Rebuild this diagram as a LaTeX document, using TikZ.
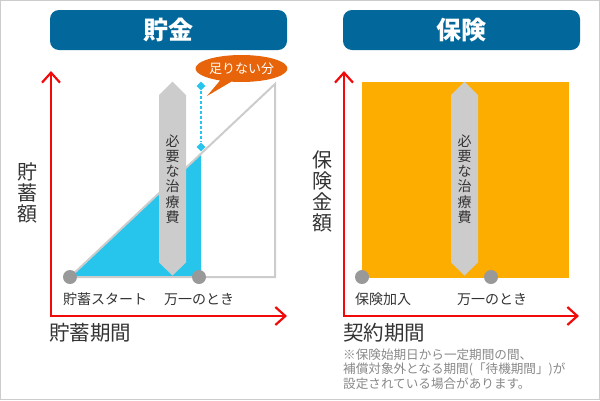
\documentclass[tikz,border=0pt]{standalone}
\usepackage{fontspec}
\setmainfont{Noto Sans CJK JP}
\usetikzlibrary{positioning,arrows.meta,shapes.geometric,shapes.callouts}
\definecolor{frame}{HTML}{CCCCCC}
\definecolor{headblue}{HTML}{02679A}
\definecolor{axisred}{HTML}{F00A0A}
\definecolor{savecyan}{HTML}{27C5EC}
\definecolor{insamber}{HTML}{FDAC00}
\definecolor{shortorange}{HTML}{E8640A}
\definecolor{bandgray}{HTML}{CCCCCC}
\definecolor{dotgray}{HTML}{999999}
\definecolor{txt}{HTML}{333333}
\definecolor{notegray}{HTML}{888888}

\begin{document}
\begin{tikzpicture}[x=1pt, y=-1pt,
    head/.style={fill=headblue, rounded corners=9pt, minimum width=237pt, minimum height=40pt,
      inner sep=0pt, text=white, font=\fontsize{25}{26}\selectfont\bfseries},
    axis/.style={draw=axisred, line width=2.2pt,
      {Straight Barb[length=10pt,width=18pt]}-{Straight Barb[length=10pt,width=18pt]}},
    vlabel/.style={align=center, inner sep=0pt, text=txt, font=\fontsize{20}{21}\selectfont},
    hlabel/.style={anchor=west, inner sep=0pt, text=txt, font=\fontsize{20.5}{21}\selectfont},
    tick/.style={anchor=west, inner sep=0pt, text=txt, font=\fontsize{14}{15}\selectfont},
    bandtext/.style={align=center, inner sep=0pt, text=txt, font=\fontsize{14}{15.3}\selectfont},
    dot/.style={circle, fill=dotgray, minimum size=14pt, inner sep=0pt},
    gem/.style={diamond, fill=savecyan, minimum size=9pt, inner sep=0pt},
    bubble/.style={ellipse callout, fill=shortorange, minimum width=81pt, minimum height=27pt,
      inner sep=0pt, text=white, font=\fontsize{13}{14}\selectfont},
    note/.style={anchor=west, inner sep=0pt, text=notegray, font=\fontsize{12.6}{13}\selectfont}]
  \useasboundingbox (0,0) rectangle (600,400);
  \draw[frame] (0.5,0.5) rectangle (599.5,399.5);

  % headers
  \node[head] (savehead) at (168.5,30) {貯金};
  \node[head] (inshead) at (461.5,30) {保険};

  % savings panel
  \fill[savecyan] (70,277) -- (201,277) -- (201,153.7) -- cycle;
  \draw[frame, line width=2pt] (70,277) -- (275,84) -- (275,277) -- cycle;

  % insurance panel
  \fill[insamber] (362,82) rectangle (569,277.5);

  \foreach \bx/\nm in {172.5/savecost, 464.5/inscost} {
    \fill[bandgray] (\bx-13.5,95) -- (\bx,81.5) -- (\bx+13.5,95) -- (\bx+13.5,262.5)
      -- (\bx,275.5) -- (\bx-13.5,262.5) -- cycle;
    \node[bandtext] (\nm) at (\bx,179) {必\\要\\な\\治\\療\\費};
  }

  \node[dot] (savestart) at (70,277) {};
  \node[dot] (saveevent) at (199,277) {};
  \node[dot] (insstart) at (362,277) {};
  \node[dot] (insevent) at (491,277) {};

  \node[gem] (gaptop) at (201,86) {};
  \node[gem] (gapbot) at (201,147) {};
  \draw[savecyan, line width=1.8pt, dash pattern=on 3pt off 2pt] (gaptop) -- (gapbot);
  \node[bubble, callout absolute pointer={(207,96)}] (short) at (241.5,68.5) {足りない分};

  % axes
  \coordinate (saveup) at (51,71);
  \coordinate (saveo) at (51,316);
  \coordinate (saveright) at (287,316);
  \draw[axis] (saveup) -- (saveo) -- (saveright);
  \coordinate (insup) at (344,71);
  \coordinate (inso) at (344,316);
  \coordinate (insright) at (579,316);
  \draw[axis] (insup) -- (inso) -- (insright);

  % labels
  \node[vlabel] (saveamt) at (27.5,192.5) {貯\\蓄\\額};
  \node[vlabel] (insamt) at (322.5,191) {保\\険\\金\\額};
  \node[tick] (startlbl) at (63,299.5) {貯蓄スタート};
  \node[tick] (savewhen) at (164,299.5) {万一のとき};
  \node[tick] (joinlbl) at (355,299.5) {保険加入};
  \node[tick] (inswhen) at (457,299.5) {万一のとき};
  \node[hlabel] (saveterm) at (49,333) {貯蓄期間};
  \node[hlabel] (insterm) at (343,333) {契約期間};
  \node[note] (note1) at (343,355) {※保険始期日から一定期間の間、};
  \node[note] (note2) at (343,369.5) {補償対象外となる期間(「待機期間」)が};
  \node[note] (note3) at (343,383.5) {設定されている場合があります。};
\end{tikzpicture}
\end{document}
